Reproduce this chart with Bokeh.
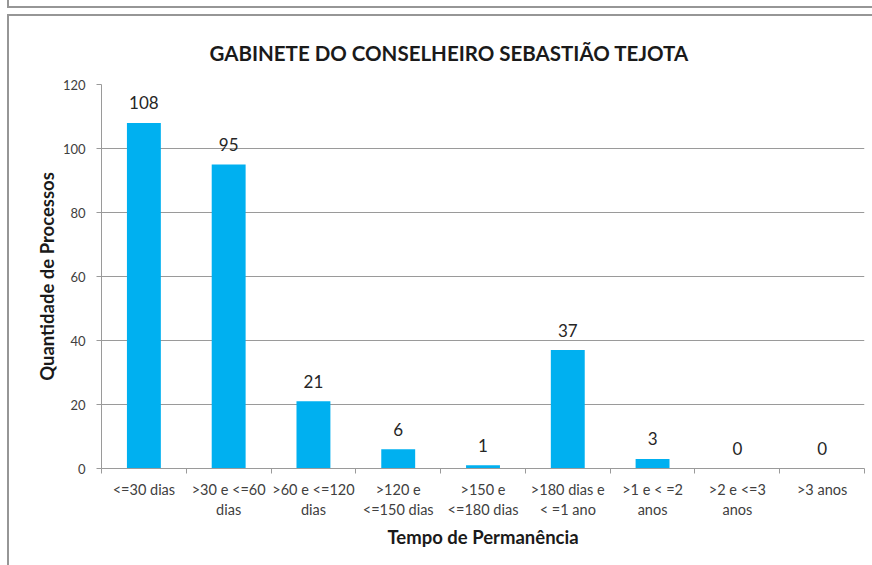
from bokeh.plotting import figure
from bokeh.models import ColumnDataSource, FixedTicker, Title
from bokeh.embed import file_html
from bokeh.resources import INLINE
from bokeh.core.properties import value

categories = ["<=30 dias", ">30 e <=60\ndias", ">60 e <=120\ndias", ">120 e\n<=150 dias",
              ">150 e\n<=180 dias", ">180 dias e\n< =1 ano", ">1 e < =2\nanos", ">2 e <=3\nanos", ">3 anos"]
counts = [108, 95, 21, 6, 1, 37, 3, 0, 0]
y_ticks = [0, 20, 40, 60, 80, 100, 120]

FONT = "Lato"
centers = [i + 0.5 for i in range(len(categories))]
bounds = list(range(len(categories) + 1))

src = ColumnDataSource(dict(x=centers, top=counts, lbl=[str(c) for c in counts]))

G = "linear-gradient(#969696,#969696)"
p = figure(width=872, height=565, x_range=(0, len(categories)), y_range=(0, 120),
           output_backend="svg", toolbar_location=None,
           min_border_left=101, min_border_right=8, min_border_top=84, min_border_bottom=97)
p.styles = {
    "background-color": "white",
    "background-image": ", ".join([G] * 4),
    "background-repeat": "no-repeat",
    "background-position": "7px 0px, 7px 6px, 7px 14px, 7px 14px",
    "background-size": "2px 7px, 865px 2px, 865px 2px, 2px 551px",
}
p.outline_line_color = None
p.background_fill_color = "white"
p.border_fill_color = None

t = Title(text="GABINETE DO CONSELHEIRO SEBASTIÃO TEJOTA", align="left", offset=108,
          text_font=FONT, text_font_size="20.5px", text_font_style="bold", text_color="#1a1a1a",
          standoff=39)
p.add_layout(t, "above")

p.vbar(x="x", top="top", width=0.4, bottom=0, source=src, fill_color="#00B0F0", line_color=None)
p.text(x="x", y="top", text="lbl", source=src, text_align="center", text_baseline="alphabetic",
       y_offset=-20, text_font=value(FONT), text_font_size="17px", text_color="#262626")

# grid
p.xgrid.visible = False
p.ygrid.ticker = FixedTicker(ticks=y_ticks)
p.ygrid.grid_line_color = "#9a9a9a"
p.ygrid.grid_line_width = 1

# y axis
ya = p.yaxis[0]
ya.ticker = FixedTicker(ticks=y_ticks)
ya.axis_line_color = "#9a9a9a"
ya.major_tick_line_color = "#9a9a9a"
ya.major_tick_out = 5
ya.major_tick_in = 0
ya.minor_tick_line_color = None
ya.major_label_text_font = FONT
ya.major_label_text_font_size = "13px"
ya.major_label_text_color = "#404040"
ya.major_label_standoff = 11
ya.axis_label = "Quantidade de Processos"
ya.axis_label_text_font = FONT
ya.axis_label_text_font_size = "18.5px"
ya.axis_label_text_font_style = "bold"
ya.axis_label_text_color = "#1a1a1a"
ya.axis_label_standoff = 2

# x axis
xa = p.xaxis[0]
xa.ticker = FixedTicker(ticks=centers, minor_ticks=bounds)
xa.major_label_overrides = {c: lab for c, lab in zip(centers, categories)}
xa.axis_line_color = "#9a9a9a"
xa.major_tick_out = 0
xa.major_tick_in = 0
xa.major_tick_line_color = None
xa.minor_tick_line_color = "#9a9a9a"
xa.minor_tick_out = 5
xa.minor_tick_in = 0
xa.major_label_text_font = FONT
xa.major_label_text_font_size = "14.5px"
xa.major_label_text_color = "#404040"
xa.major_label_standoff = 7
xa.axis_label = "Tempo de Permanência"
xa.axis_label_text_font = FONT
xa.axis_label_text_font_size = "18.5px"
xa.axis_label_text_font_style = "bold"
xa.axis_label_text_color = "#1a1a1a"
xa.axis_label_standoff = 5

open("out.html", "w").write(file_html(p, INLINE))
